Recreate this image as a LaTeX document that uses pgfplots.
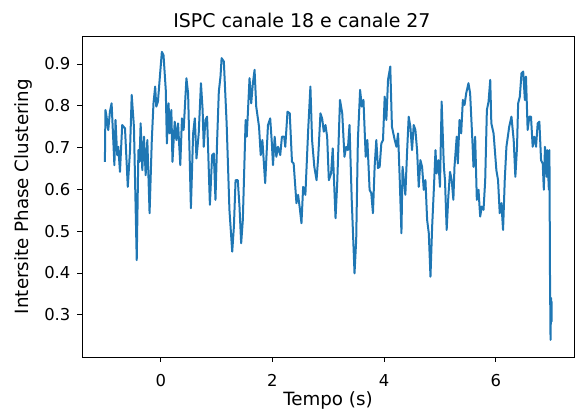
\documentclass[border=0pt]{standalone}
\usepackage{fontspec}
\setmainfont{DejaVu Sans}
\usepackage{pgfplots}
\pgfplotsset{compat=1.18}
\definecolor{mplblue}{HTML}{1F77B4}
\begin{document}
\begin{tikzpicture}
\begin{axis}[
  scale only axis,
  width=369pt, height=240.75pt,
  xmin=-1.41, xmax=7.40,
  ymin=0.199, ymax=0.967,
  xtick={0,2,4,6},
  ytick={0.3,0.4,0.5,0.6,0.7,0.8,0.9},
  yticklabel style={/pgf/number format/fixed,/pgf/number format/precision=1,/pgf/number format/fixed zerofill},
  /pgf/number format/assume math mode=true,
  tick align=outside,
  major tick length=3.5pt,
  xtick pos=bottom, ytick pos=left,
  every tick/.style={black, line width=0.6pt},
  axis line style={black, line width=0.6pt},
  tick label style={font=\fontsize{12.3}{14}\selectfont},
  xticklabel style={anchor=base, yshift=-18.5pt, inner sep=0pt},
  yticklabel style={anchor=east, xshift=-5pt, inner sep=0pt},
  every axis title shift=0pt,
  title={ISPC canale 18 e canale 27},
  title style={font=\fontsize{14.2}{17}\selectfont, at={(axis description cs:0.447,1)}, anchor=base, yshift=6.2pt},
  xlabel={Tempo (s)},
  xlabel style={font=\fontsize{13.7}{16}\selectfont, at={(axis description cs:0.5,0)}, anchor=base, yshift=-36.6pt},
  ylabel={Intersite Phase Clustering},
  ylabel style={font=\fontsize{13.7}{16}\selectfont, at={(axis description cs:-0.1092,0.5)}, anchor=base},
]
\addplot[mplblue, line width=1.5pt, line join=round] coordinates {
(-1.00,0.666) (-0.99,0.790) (-0.97,0.774) (-0.94,0.742) (-0.91,0.786) (-0.88,0.806)
(-0.85,0.718) (-0.83,0.658) (-0.81,0.766) (-0.78,0.682) (-0.76,0.702) (-0.73,0.642)
(-0.69,0.754) (-0.64,0.746) (-0.59,0.606) (-0.55,0.694) (-0.52,0.826) (-0.48,0.750)
(-0.43,0.431) (-0.40,0.694) (-0.38,0.666) (-0.36,0.758) (-0.33,0.646) (-0.30,0.726)
(-0.27,0.634) (-0.24,0.718) (-0.20,0.543) (-0.16,0.718) (-0.13,0.806) (-0.10,0.846)
(-0.08,0.798) (-0.05,0.810) (-0.02,0.862) (0.02,0.929) (0.05,0.921) (0.09,0.838)
(0.11,0.710) (0.14,0.806) (0.16,0.734) (0.19,0.790) (0.21,0.666) (0.25,0.762)
(0.28,0.718) (0.31,0.758) (0.35,0.658) (0.38,0.770) (0.41,0.742) (0.46,0.866)
(0.49,0.830) (0.54,0.555) (0.58,0.734) (0.61,0.770) (0.64,0.674) (0.68,0.734)
(0.72,0.854) (0.75,0.790) (0.77,0.702) (0.80,0.766) (0.83,0.774) (0.88,0.563)
(0.92,0.682) (0.95,0.686) (0.98,0.575) (1.01,0.718) (1.04,0.834) (1.07,0.870)
(1.09,0.914) (1.13,0.906) (1.18,0.758) (1.23,0.551) (1.28,0.451) (1.31,0.511)
(1.34,0.622) (1.38,0.622) (1.41,0.559) (1.44,0.471) (1.47,0.527) (1.52,0.766)
(1.54,0.726) (1.59,0.866) (1.62,0.806) (1.65,0.854) (1.68,0.886) (1.71,0.798)
(1.76,0.750) (1.79,0.682) (1.82,0.718) (1.87,0.615) (1.92,0.754) (1.96,0.770)
(1.99,0.710) (2.01,0.658) (2.04,0.726) (2.07,0.678) (2.10,0.702) (2.14,0.682)
(2.17,0.726) (2.21,0.726) (2.23,0.702) (2.27,0.786) (2.31,0.782) (2.35,0.666)
(2.38,0.662) (2.43,0.567) (2.46,0.587) (2.49,0.555) (2.52,0.519) (2.55,0.606)
(2.59,0.587) (2.64,0.742) (2.68,0.846) (2.71,0.718) (2.75,0.654) (2.79,0.622)
(2.82,0.678) (2.86,0.782) (2.89,0.770) (2.92,0.738) (2.95,0.754) (2.98,0.726)
(3.01,0.622) (3.05,0.638) (3.08,0.698) (3.13,0.531) (3.16,0.615) (3.21,0.814)
(3.25,0.782) (3.29,0.678) (3.32,0.702) (3.35,0.694) (3.38,0.754) (3.42,0.575)
(3.47,0.399) (3.50,0.479) (3.53,0.718) (3.57,0.838) (3.60,0.798) (3.63,0.814)
(3.67,0.678) (3.70,0.718) (3.74,0.599) (3.77,0.591) (3.80,0.543) (3.83,0.654)
(3.86,0.718) (3.89,0.651) (3.92,0.654) (3.95,0.710) (3.98,0.718) (4.01,0.822)
(4.04,0.766) (4.07,0.862) (4.11,0.894) (4.14,0.750) (4.19,0.718) (4.22,0.702)
(4.25,0.734) (4.28,0.622) (4.31,0.495) (4.33,0.654) (4.38,0.587) (4.41,0.686)
(4.44,0.774) (4.47,0.750) (4.50,0.694) (4.53,0.754) (4.56,0.742) (4.59,0.694)
(4.62,0.606) (4.65,0.670) (4.68,0.654) (4.71,0.599) (4.74,0.622) (4.77,0.527)
(4.80,0.495) (4.83,0.391) (4.86,0.511) (4.89,0.599) (4.92,0.694) (4.94,0.638)
(4.97,0.670) (5.00,0.606) (5.03,0.810) (5.07,0.654) (5.09,0.622) (5.12,0.503)
(5.15,0.583) (5.18,0.642) (5.21,0.622) (5.24,0.575) (5.26,0.654) (5.30,0.726)
(5.32,0.662) (5.35,0.766) (5.38,0.734) (5.41,0.814) (5.44,0.802) (5.47,0.830)
(5.51,0.854) (5.54,0.830) (5.58,0.718) (5.60,0.654) (5.63,0.726) (5.66,0.575)
(5.69,0.599) (5.72,0.535) (5.75,0.559) (5.78,0.551) (5.81,0.622) (5.84,0.790)
(5.87,0.810) (5.90,0.862) (5.92,0.758) (5.96,0.734) (6.01,0.646) (6.04,0.622)
(6.07,0.543) (6.10,0.567) (6.13,0.503) (6.16,0.622) (6.19,0.702) (6.24,0.750)
(6.28,0.774) (6.32,0.718) (6.35,0.630) (6.38,0.702) (6.40,0.806) (6.43,0.822)
(6.46,0.878) (6.49,0.882) (6.52,0.814) (6.54,0.870) (6.57,0.742) (6.60,0.774)
(6.63,0.774) (6.66,0.702) (6.69,0.726) (6.72,0.702) (6.75,0.758) (6.78,0.762)
(6.81,0.670) (6.84,0.662) (6.86,0.599) (6.88,0.702) (6.91,0.630) (6.92,0.694)
(6.95,0.599) (6.96,0.694) (6.97,0.399) (6.98,0.240) (6.99,0.340) (7.00,0.284)
(7.00,0.332)
};
\end{axis}
\pgfresetboundingbox
\path[use as bounding box] ([xshift=-61.5pt,yshift=-39pt]current axis.south west) rectangle ([xshift=0.75pt,yshift=27pt]current axis.north east);
\end{tikzpicture}
\end{document}
